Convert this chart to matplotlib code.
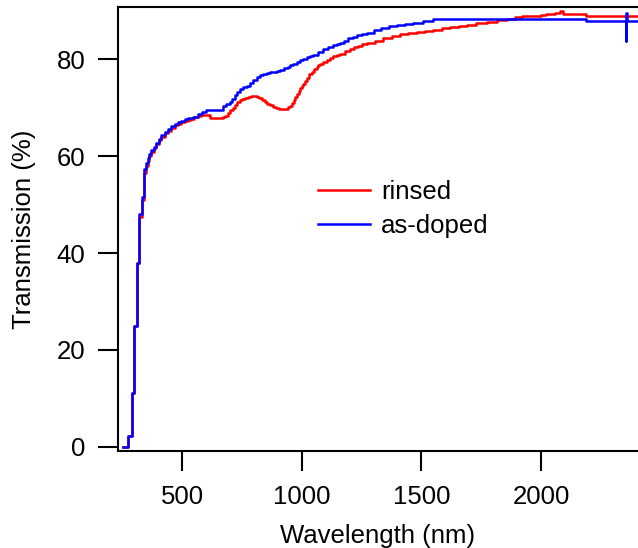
import matplotlib
matplotlib.use("Agg")
import matplotlib.pyplot as plt

plt.rcParams['font.family'] = ['Liberation Sans', 'DejaVu Sans']

# rinsed sample
wl_rinsed = [250, 273, 288, 299, 309, 320, 332, 339, 347, 354, 362, 370, 380,
             390, 400, 412, 426, 440, 454, 468, 482, 495, 509, 523, 537, 550,
             565, 579, 601, 615, 670, 680, 690, 701, 712, 721, 730, 740, 750,
             762, 775, 787, 800, 810, 820, 832, 845, 855, 866, 878, 890, 902,
             915, 935, 943, 950, 958, 965, 971, 978, 986, 993, 1000, 1006,
             1013, 1020, 1030, 1040, 1051, 1062, 1069, 1076, 1090, 1104, 1118,
             1131, 1145, 1159, 1180, 1201, 1218, 1235, 1253, 1271, 1305, 1340,
             1375, 1410, 1445, 1480, 1515, 1550, 1585, 1620, 1655, 1690, 1730,
             1773, 1815, 1857, 1890, 1920, 1960, 2000, 2020, 2040, 2060, 2080,
             2090, 2189, 2406]
t_rinsed = [0, 2.3, 11, 25, 38, 47.5, 51, 56.5, 58.0, 59, 60.0, 60.8, 61.8,
            62.6, 63.3, 64.0, 64.7, 65.3, 65.9, 66.4, 66.7, 67.0, 67.2, 67.4,
            67.7, 68.0, 68.3, 68.5, 68.5, 67.8, 68.1, 68.4, 69.0, 69.5, 70.0,
            70.6, 71.2, 71.6, 71.9, 72.0, 72.2, 72.4, 72.5, 72.3, 72.0, 71.6,
            71.2, 70.8, 70.5, 70.2, 70.0, 69.8, 69.7, 69.8, 70.1, 70.4, 71.0,
            71.6, 72.2, 72.8, 73.4, 74.0, 74.5, 75.0, 75.6, 76.2, 76.9, 77.5,
            78.0, 78.5, 78.8, 79.1, 79.5, 79.9, 80.3, 80.6, 80.9, 81.2, 81.7,
            82.2, 82.5, 82.8, 83.1, 83.4, 83.9, 84.4, 84.8, 85.2, 85.5, 85.7,
            85.9, 86.1, 86.4, 86.6, 86.9, 87.1, 87.5, 87.8, 88.1, 88.4, 88.7,
            88.9, 89.0, 89.1, 89.3, 89.4, 89.6, 89.9, 89.3, 88.9, 88.9]

# as-doped sample
wl_doped = [250, 273, 288, 299, 309, 320, 332, 339, 347, 354, 362, 370, 380,
            390, 400, 412, 426, 440, 454, 468, 482, 495, 509, 523, 546, 565,
            582, 600, 670, 684, 698, 709, 720, 730, 741, 755, 769, 782, 795,
            810, 824, 838, 852, 866, 880, 894, 908, 924, 940, 952, 964, 978,
            993, 1006, 1020, 1034, 1048, 1069, 1090, 1110, 1131, 1145, 1159,
            1176, 1194, 1212, 1230, 1250, 1271, 1300, 1330, 1363, 1397, 1430,
            1466, 1508, 1550, 1800, 2189, 2355, 2357, 2359, 2406]
t_doped = [0, 2.3, 11, 25, 38, 48, 51.5, 57.3, 58.6, 59.6, 60.4, 61.2, 62.0,
           62.8, 63.6, 64.3, 65.0, 65.6, 66.2, 66.7, 67.0, 67.3, 67.6, 67.8,
           68.2, 68.7, 69.2, 69.6, 70.3, 70.8, 71.2, 71.9, 72.6, 73.2, 73.8,
           74.2, 74.6, 75.2, 75.8, 76.3, 76.7, 76.9, 77.1, 77.3, 77.5, 77.7,
           77.9, 78.2, 78.5, 78.8, 79.1, 79.5, 79.8, 80.1, 80.4, 80.7, 81.0,
           81.6, 82.1, 82.5, 82.9, 83.2, 83.4, 83.9, 84.4, 84.7, 85.0, 85.3,
           85.5, 86.0, 86.4, 86.8, 87.1, 87.4, 87.6, 88.0, 88.3, 88.4, 87.9,
           83.9, 89.5, 87.9, 87.9]

x_ticks = [500, 1000, 1500, 2000]
y_ticks = [0, 20, 40, 60, 80]

fig = plt.figure(figsize=(6.38, 5.48), dpi=100)
ax = fig.add_axes([0.185, 0.177, 0.815, 0.81])

ax.plot(wl_rinsed, t_rinsed, drawstyle='steps-post', color='#FF0000',
        linewidth=1.8, label='rinsed')
ax.plot(wl_doped, t_doped, drawstyle='steps-post', color='#0000FF',
        linewidth=1.8, label='as-doped')

ax.set_xlim(230.6, 2405.7)
ax.set_ylim(-0.9, 90.8)
ax.set_xticks(x_ticks)
ax.set_yticks(y_ticks)
ax.tick_params(direction='out', length=14.5, width=1.5, labelsize=18.5)
ax.tick_params(axis='x', pad=10)
ax.tick_params(axis='y', pad=9)
ax.spines['right'].set_visible(False)
for s in ['left', 'bottom', 'top']:
    ax.spines[s].set_linewidth(1.5)

ax.set_xlabel('Wavelength (nm)', fontsize=18.5, labelpad=11)
ax.set_ylabel('Transmission (%)', fontsize=18.5, labelpad=15)

ax.legend(loc='center left', bbox_to_anchor=(0.385, 0.545), frameon=False,
          fontsize=18.5, borderpad=0, borderaxespad=0, handlelength=2.0,
          handletextpad=0.45, labelspacing=0.42)

fig.savefig('out.png', dpi=100, facecolor='white')
